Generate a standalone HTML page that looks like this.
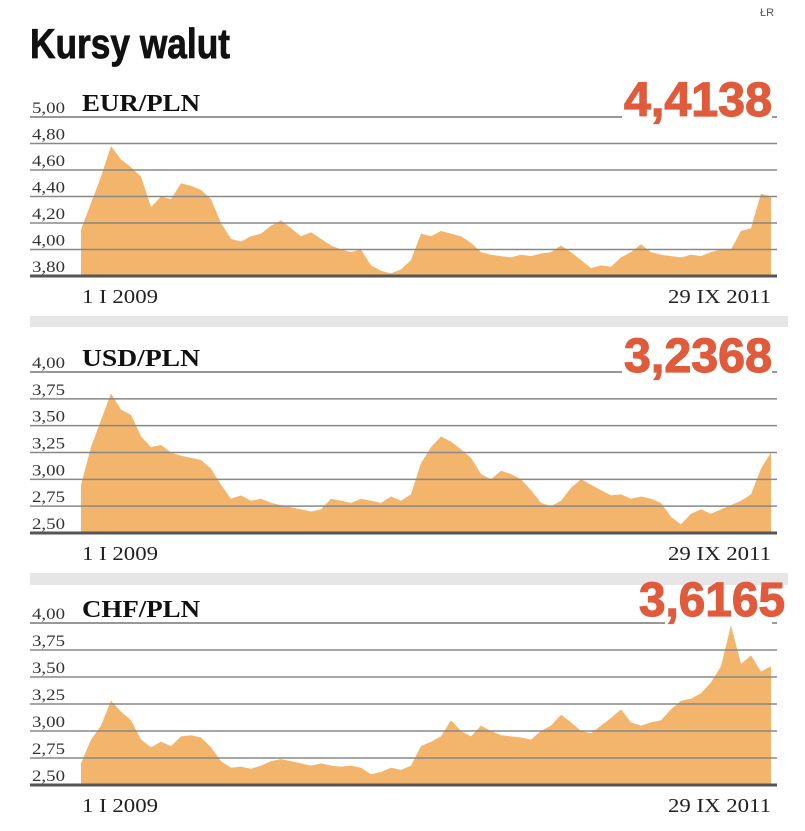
<!DOCTYPE html>
<html><head><meta charset="utf-8">
<style>
html,body{margin:0;padding:0;background:#fff;width:805px;height:831px;overflow:hidden}
svg{display:block}
</style></head>
<body>
<svg id="chart" width="805" height="831" viewBox="0 0 805 831" xmlns="http://www.w3.org/2000/svg">
  <text x="760" y="16" font-family="Liberation Sans, sans-serif" font-size="11" fill="#555">ŁR</text>
  <text x="30" y="58" font-family="Liberation Sans Narrow, Liberation Sans, sans-serif" font-weight="bold" font-size="42" fill="#111" textLength="200" lengthAdjust="spacingAndGlyphs" stroke="#111" stroke-width="0.8">Kursy walut</text>
  <rect x="30" y="316" width="758" height="11" fill="#e6e6e6"/>
  <rect x="30" y="573" width="758" height="12" fill="#e6e6e6"/>
</svg>
<script>
const eurValues=[4.15,4.35,4.55,4.78,4.68,4.62,4.55,4.32,4.40,4.38,4.50,4.48,4.45,4.38,4.20,4.08,4.06,4.10,4.12,4.18,4.22,4.16,4.10,4.13,4.08,4.03,4.00,3.98,4.00,3.88,3.84,3.82,3.85,3.92,4.12,4.10,4.14,4.12,4.10,4.05,3.98,3.96,3.95,3.94,3.96,3.95,3.97,3.98,4.03,3.98,3.92,3.86,3.88,3.87,3.94,3.98,4.04,3.98,3.96,3.95,3.94,3.96,3.95,3.98,4.00,4.00,4.14,4.16,4.42,4.40];
const usdValues=[2.95,3.30,3.55,3.80,3.65,3.60,3.40,3.30,3.32,3.25,3.22,3.20,3.18,3.10,2.95,2.82,2.85,2.80,2.82,2.78,2.76,2.74,2.72,2.70,2.72,2.82,2.80,2.78,2.82,2.80,2.78,2.84,2.80,2.86,3.15,3.30,3.40,3.35,3.28,3.20,3.05,3.00,3.08,3.05,3.00,2.90,2.78,2.75,2.80,2.92,3.00,2.95,2.90,2.85,2.86,2.82,2.84,2.82,2.78,2.65,2.58,2.68,2.72,2.68,2.72,2.76,2.80,2.86,3.10,3.25];
const chfValues=[2.70,2.92,3.05,3.28,3.18,3.10,2.92,2.85,2.90,2.86,2.95,2.96,2.94,2.85,2.72,2.66,2.67,2.65,2.68,2.72,2.74,2.72,2.70,2.68,2.70,2.68,2.67,2.68,2.66,2.60,2.62,2.66,2.64,2.68,2.86,2.90,2.95,3.10,3.00,2.95,3.05,3.00,2.96,2.95,2.94,2.92,3.00,3.05,3.15,3.08,3.00,2.98,3.05,3.12,3.20,3.08,3.05,3.08,3.10,3.20,3.28,3.30,3.35,3.45,3.60,3.98,3.62,3.70,3.55,3.60];
const eurTicks=["5,00","4,80","4,60","4,40","4,20","4,00","3,80"];
const usdTicks=["4,00","3,75","3,50","3,25","3,00","2,75","2,50"];
const chfTicks=["4,00","3,75","3,50","3,25","3,00","2,75","2,50"];
const eurTickValues=[5.0,4.8,4.6,4.4,4.2,4.0,3.8];
const usdTickValues=[4.0,3.75,3.5,3.25,3.0,2.75,2.5];
const chfTickValues=[4.0,3.75,3.5,3.25,3.0,2.75,2.5];
const pairNames=["EUR/PLN","USD/PLN","CHF/PLN"];
const lastRates=["4,4138","3,2368","3,6165"];
const dateLabels=["1 I 2009","29 IX 2011"];

const NS="http://www.w3.org/2000/svg";
const svg=document.getElementById('chart');
function mk(tag,attrs,parent){const e=document.createElementNS(NS,tag);for(const k in attrs)e.setAttribute(k,attrs[k]);(parent||svg).appendChild(e);return e;}

const panels=[
 {vals:eurValues,ticks:eurTicks,tv:eurTickValues,top:117,bottom:276,gapEnd:622,key:'eur',rx:772,ry:116,rl:148},
 {vals:usdValues,ticks:usdTicks,tv:usdTickValues,top:372,bottom:533,gapEnd:622,key:'usd',rx:772,ry:372,rl:148},
 {vals:chfValues,ticks:chfTicks,tv:chfTickValues,top:623,bottom:785,gapEnd:665,key:'chf',rx:785,ry:616,rl:146}
];
const X0=81,X1=771;
panels.forEach((p,pi)=>{
  const g=mk('g',{});
  
  
  const vmax=p.tv[0],vmin=p.tv[p.tv.length-1];
  const y=v=>p.bottom-(v-vmin)/(vmax-vmin)*(p.bottom-p.top);
  const x=i=>X0+i*(X1-X0)/(p.vals.length-1);
  let d='M'+X0+','+p.bottom;
  p.vals.forEach((v,i)=>{d+=' L'+x(i).toFixed(1)+','+y(v).toFixed(1);});
  d+=' L'+X1+','+p.bottom+' Z';
  const area=mk('path',{d:d,fill:'#f3b46c'},g);
  
  
  p.tv.forEach((tv,i)=>{
    const yy=y(tv);
    const last=i===p.tv.length-1;
    if(i===0){
      const l1=mk('line',{x1:30,x2:p.gapEnd,y1:yy,y2:yy,stroke:'#777','stroke-width':1.5},g);
      
      
      const l2=mk('line',{x1:772,x2:777,y1:yy,y2:yy,stroke:'#777','stroke-width':1.5},g);
      
      
    } else {
      const l=mk('line',{x1:30,x2:777,y1:yy,y2:yy,stroke:last?'#555':'#888','stroke-width':last?3:1.5},g);
      
      
    }
    const t=mk('text',{x:32,y:yy-4,'font-family':'Liberation Serif, serif','font-size':16,fill:'#333',textLength:33,lengthAdjust:'spacingAndGlyphs'},g);
    t.textContent=p.ticks[i];
    
    
  });
  const name=mk('text',{x:82,y:p.top-6,'font-family':'Liberation Serif, serif','font-weight':'bold','font-size':24,fill:'#111',textLength:118,lengthAdjust:'spacingAndGlyphs'},g);
  name.textContent=pairNames[pi];
  
  
  const rate=mk('text',{x:p.rx,y:p.ry,'text-anchor':'end','font-family':'Liberation Sans Narrow, Liberation Sans, sans-serif','font-weight':'bold','font-size':48,fill:'#e05a3c',stroke:'#e05a3c','stroke-width':1.2,textLength:p.rl,lengthAdjust:'spacingAndGlyphs'},g);
  rate.textContent=lastRates[pi];
  
  
  const d1=mk('text',{x:82,y:p.bottom+27,'font-family':'Liberation Serif, serif','font-size':20,fill:'#222',textLength:76,lengthAdjust:'spacingAndGlyphs'},g);
  d1.textContent=dateLabels[0];
  
  
  const d2=mk('text',{x:771,y:p.bottom+27,'text-anchor':'end','font-family':'Liberation Serif, serif','font-size':20,fill:'#222',textLength:103,lengthAdjust:'spacingAndGlyphs'},g);
  d2.textContent=dateLabels[1];
  
  
});
</script>
</body></html>
